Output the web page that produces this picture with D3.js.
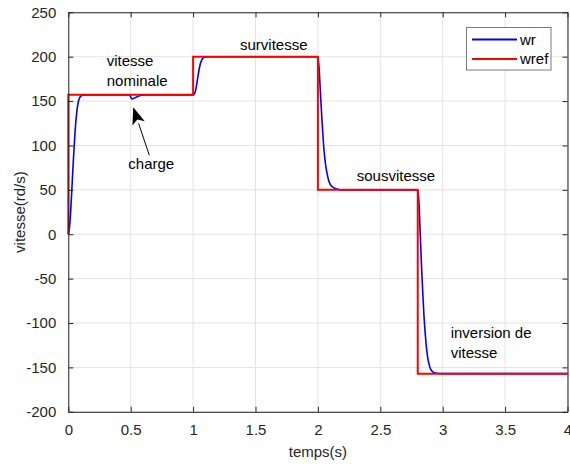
<!DOCTYPE html>
<html><head><meta charset="utf-8">
<script src="https://cdn.jsdelivr.net/npm/d3@7"></script>
<style>body{margin:0;background:#fff}svg{display:block}text{font-family:"Liberation Sans",Arial,sans-serif}</style>
</head><body><svg id="c" width="570" height="468"></svg>
<script>
const xTicks = [0,0.5,1,1.5,2,2.5,3,3.5,4];
const xTickLabels = ["0","0.5","1","1.5","2","2.5","3","3.5","4"];
const yTicks = [-200,-150,-100,-50,0,50,100,150,200,250];
const yTickLabels = ["-200","-150","-100","-50","0","50","100","150","200","250"];
const wrefTime  = [0,0,1,1,2,2,2.8,2.8,4];
const wrefValue = [0,157,157,200,200,50,50,-157,-157];
const wrTime = [0,0.01,0.02,0.03,0.04,0.05,0.06,0.07,0.08,0.09,0.10,0.12,0.15,0.2,
  0.49,0.50,0.51,0.52,0.54,0.56,0.58,0.62,0.7,
  1.0,1.01,1.02,1.03,1.04,1.05,1.06,1.07,1.08,1.10,1.13,1.2,
  2.0,2.01,2.02,2.03,2.04,2.05,2.06,2.07,2.08,2.09,2.10,2.12,2.15,2.2,
  2.8,2.81,2.82,2.83,2.84,2.85,2.86,2.87,2.88,2.89,2.90,2.92,2.95,3.0,4.0];
const wrValue = [0,8,28,55,82,106,126,140,149,153.5,155.5,156.7,157,157,
  157,154.5,152.5,152.8,154,155.3,156.2,156.8,157,
  157,158,162,170,179,187,193,196.5,198.5,199.7,200,200,
  200,186,160,135,112,93,80,71,64,59,56,53,51,50,
  50,35,0,-35,-65,-92,-112,-128,-139,-146,-151,-155,-156.5,-157,-157];
const seriesNames = ["wr","wref"];
const seriesColors = ["#0000ff","#ff0000"];
const annotations = [
  {lines:["vitesse","nominale"], t:0.308, v:189},
  {lines:["survitesse"], t:1.376, v:207},
  {lines:["sousvitesse"], t:2.311, v:60.5},
  {lines:["inversion de","vitesse"], t:3.064, v:-117},
  {lines:["charge"], t:0.481, v:73}
];

const svg = d3.select("#c");
const L=68.3,R=567.5,T=12.3,B=411.8;
const x = d3.scaleLinear().domain([0,4]).range([L,R]);
const y = d3.scaleLinear().domain([-200,250]).range([B,T]);
const fs = 15, axc = "#262626";

// grid
const g = svg.append("g");
g.selectAll(".gx").data(xTicks).join("line").attr("x1",d=>x(d)).attr("x2",d=>x(d)).attr("y1",T).attr("y2",B).attr("stroke","#e3e3e3").attr("stroke-width",1);
g.selectAll(".gy").data(yTicks).join("line").attr("x1",L).attr("x2",R).attr("y1",d=>y(d)).attr("y2",d=>y(d)).attr("stroke","#e3e3e3").attr("stroke-width",1);

// lines
const line = d3.line().x(d=>x(d[0])).y(d=>y(d[1]));
svg.append("path").datum(wrTime.map((t,i)=>[t,wrValue[i]])).attr("d",line.curve(d3.curveMonotoneX)).attr("fill","none").attr("stroke",seriesColors[0]).attr("stroke-width",1.6);
svg.append("path").datum(wrefTime.map((t,i)=>[t,wrefValue[i]])).attr("d",d3.line().x(d=>x(d[0])).y(d=>y(d[1]))).attr("fill","none").attr("stroke",seriesColors[1]).attr("stroke-width",2);

// axes
function styleAxis(sel){sel.select(".domain").attr("stroke",axc);sel.selectAll(".tick line").attr("stroke",axc);sel.selectAll("text").attr("fill",axc).style("font-size",fs+"px").style("font-family","'Liberation Sans',Arial,sans-serif");}
const ax = svg.append("g").attr("transform",`translate(0,${B})`).call(d3.axisBottom(x).tickValues(xTicks).tickFormat((d,i)=>xTickLabels[i]).tickSizeInner(-5).tickSizeOuter(0).tickPadding(13));
styleAxis(ax);
const axt = svg.append("g").attr("transform",`translate(0,${T})`).call(d3.axisTop(x).tickValues(xTicks).tickFormat("").tickSizeInner(-5).tickSizeOuter(0));
styleAxis(axt);
const ay = svg.append("g").attr("transform",`translate(${L},0)`).call(d3.axisLeft(y).tickValues(yTicks).tickFormat((d,i)=>yTickLabels[i]).tickSizeInner(-5).tickSizeOuter(0).tickPadding(12));
styleAxis(ay);
const ayr = svg.append("g").attr("transform",`translate(${R},0)`).call(d3.axisRight(y).tickValues(yTicks).tickFormat("").tickSizeInner(-5).tickSizeOuter(0));
styleAxis(ayr);

// axis labels
svg.append("text").attr("x",(L+R)/2).attr("y",457).attr("text-anchor","middle").attr("fill",axc).style("font-size",fs+"px").text("temps(s)");
svg.append("text").attr("transform",`translate(25,${(T+B)/2}) rotate(-90)`).attr("text-anchor","middle").attr("fill",axc).style("font-size",fs+"px").text("vitesse(rd/s)");

// annotations
annotations.forEach(a=>{
  a.lines.forEach((ln,i)=>{
    svg.append("text").attr("x",x(a.t)).attr("y",y(a.v)+i*20).attr("fill","#000").style("font-size",fs+"px").text(ln);
  });
});
// arrow
const tail=[x(0.649),y(89)], tip=[x(0.52),y(143)];
const ang=Math.atan2(tip[1]-tail[1],tip[0]-tail[0]);
const hl=17, hw=6.5;
const bx=tip[0]-hl*Math.cos(ang), by=tip[1]-hl*Math.sin(ang);
svg.append("line").attr("x1",tail[0]).attr("y1",tail[1]).attr("x2",bx).attr("y2",by).attr("stroke","#000").attr("stroke-width",1);
svg.append("path").attr("d",`M${tip[0]},${tip[1]}L${bx+hw*Math.sin(ang)},${by-hw*Math.cos(ang)}L${bx+4*Math.cos(ang)},${by+4*Math.sin(ang)}L${bx-hw*Math.sin(ang)},${by+hw*Math.cos(ang)}Z`).attr("fill","#000");

// legend
const lg = svg.append("g");
lg.append("rect").attr("x",466.5).attr("y",27.5).attr("width",84.5).attr("height",42.5).attr("fill","#fff").attr("stroke","#7a7a7a").attr("stroke-width",1);
seriesNames.forEach((n,i)=>{
  const yy = 39.5 + i*19.5;
  lg.append("line").attr("x1",472).attr("x2",517).attr("y1",yy).attr("y2",yy).attr("stroke",seriesColors[i]).attr("stroke-width",1.8);
  lg.append("text").attr("x",520).attr("y",yy+5).attr("fill","#000").style("font-size",fs+"px").text(n);
});
</script></body></html>
